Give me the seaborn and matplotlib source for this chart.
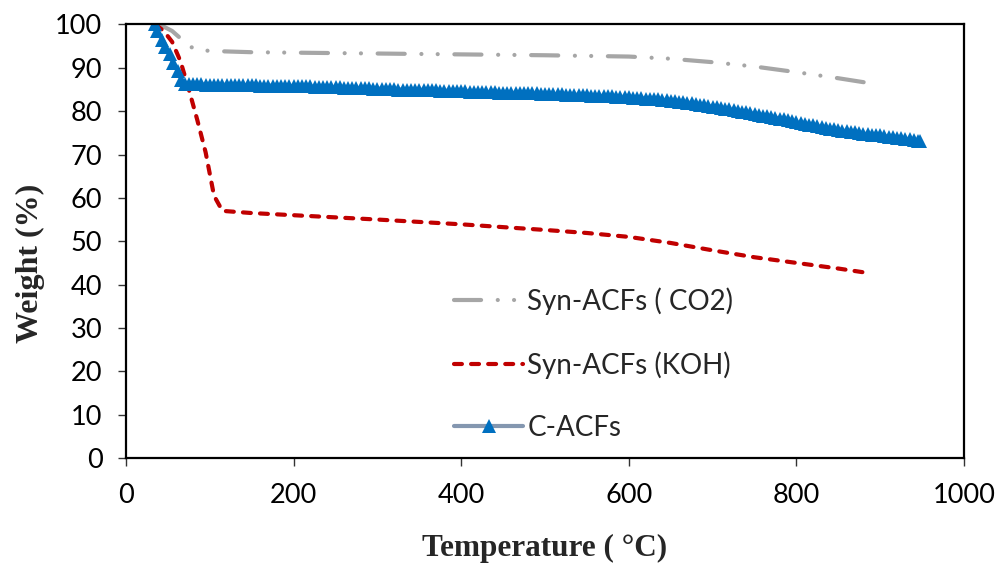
import numpy as np
import pandas as pd
import matplotlib
matplotlib.use("Agg")
import matplotlib.pyplot as plt
import seaborn as sns

# Thermogravimetric curves: temperature (°C) vs remaining weight (%)
co2_temp = [35, 45, 55, 65, 75, 85, 100, 150, 200, 300, 400, 500, 600, 650, 700, 750, 800, 850, 883]
co2_weight = [100, 99.5, 98.5, 96.8, 95.0, 94.2, 93.9, 93.6, 93.5, 93.3, 93.1, 92.9, 92.6, 92.1, 91.3,
              90.3, 89.0, 87.6, 86.6]

koh_temp = [35, 45, 55, 65, 75, 85, 95, 105, 115, 150, 200, 300, 400, 500, 550, 600, 650, 700, 750,
            800, 850, 888]
koh_weight = [100, 98.5, 96.0, 91.5, 85.0, 78.0, 70.5, 60.5, 57.0, 56.5, 56.0, 55.0, 53.9, 52.6, 51.9,
              51.0, 49.6, 47.9, 46.3, 45.0, 43.7, 42.6]

# C-ACFs: initial moisture loss, then readings every 5 °C from 75 to 945 °C, last point at 948 °C
cacf_temp_start = [35, 37, 43, 47, 52, 56, 62, 66, 70]
cacf_weight_start = [100, 98.4, 96.5, 94.9, 93.1, 91.0, 89.2, 87.3, 86.3]
cacf_temp_main = list(range(75, 950, 5)) + [948]
cacf_weight_main = [
    86.2, 86.2, 86.2, 86.2, 86.1, 86.1,
    86.1, 86.1, 86.1, 86.1, 86.0, 86.0, 86.0, 86.0, 86.0, 86.0,
    86.0, 85.9, 85.9, 85.9, 85.9, 85.9, 85.8, 85.8, 85.8, 85.8,
    85.8, 85.7, 85.7, 85.7, 85.6, 85.6, 85.6, 85.6, 85.5, 85.5,
    85.5, 85.4, 85.4, 85.4, 85.3, 85.3, 85.3, 85.3, 85.2, 85.2,
    85.2, 85.1, 85.1, 85.1, 85.0, 85.0, 85.0, 85.0, 84.9, 84.9,
    84.9, 84.8, 84.8, 84.8, 84.7, 84.7, 84.7, 84.7, 84.6, 84.6,
    84.6, 84.5, 84.5, 84.5, 84.4, 84.4, 84.4, 84.4, 84.3, 84.3,
    84.3, 84.2, 84.2, 84.2, 84.1, 84.1, 84.1, 84.1, 84.0, 84.0,
    84.0, 83.9, 83.9, 83.9, 83.8, 83.8, 83.8, 83.8, 83.7, 83.7,
    83.6, 83.6, 83.5, 83.5, 83.4, 83.4, 83.3, 83.3, 83.2, 83.2,
    83.1, 83.0, 83.0, 82.9, 82.8, 82.8, 82.7, 82.6, 82.5, 82.4,
    82.3, 82.2, 82.1, 82.0, 81.8, 81.7, 81.5, 81.4, 81.2, 81.0,
    80.9, 80.7, 80.5, 80.4, 80.2, 80.0, 79.9, 79.7, 79.5, 79.4,
    79.2, 79.0, 78.8, 78.7, 78.5, 78.3, 78.1, 77.9, 77.7, 77.4,
    77.2, 77.0, 76.9, 76.7, 76.5, 76.3, 76.2, 76.0, 75.8, 75.7,
    75.5, 75.4, 75.2, 75.1, 74.9, 74.8, 74.7, 74.6, 74.5, 74.4,
    74.3, 74.1, 74.0, 73.9, 73.7, 73.6, 73.5, 73.3, 73.2, 73.1,
]

labels = ["Syn-ACFs ( CO2)", "Syn-ACFs (KOH)", "C-ACFs"]
x_ticks = [0, 200, 400, 600, 800, 1000]
y_ticks = [0, 10, 20, 30, 40, 50, 60, 70, 80, 90, 100]

sns.set_theme(style="ticks")
plt.rcParams["font.family"] = ["Lato", "DejaVu Sans"]

co2 = pd.DataFrame({"T": co2_temp, "W": co2_weight})
koh = pd.DataFrame({"T": koh_temp, "W": koh_weight})
cacf = pd.DataFrame({"T": cacf_temp_start + cacf_temp_main,
                     "W": cacf_weight_start + cacf_weight_main})

fig = plt.figure(figsize=(10.05, 5.64), dpi=100)
ax = fig.add_axes([0.1254, 0.188, 0.8338, 0.7686])

sns.lineplot(data=co2, x="T", y="W", ax=ax, estimator=None, sort=False,
             color="#a6a6a6", linewidth=3,
             linestyle=(0, (6.5, 4.0, 0.01, 3.9, 0.01, 4.0)),
             dash_capstyle="round", solid_capstyle="round")
sns.lineplot(data=koh, x="T", y="W", ax=ax, estimator=None, sort=False,
             color="#c00000", linewidth=3,
             linestyle=(0, (1.9, 2.2)),
             dash_capstyle="round")
sns.lineplot(data=cacf, x="T", y="W", ax=ax, estimator=None, sort=False,
             color="#8497b0", linewidth=3,
             marker="^", markersize=10, markerfacecolor="#0070c0",
             markeredgecolor="#0070c0", markeredgewidth=0)

ax.set_xlim(0, 1000)
ax.set_ylim(0, 100)
ax.set_xticks(x_ticks)
ax.set_yticks(y_ticks)
ax.tick_params(axis="both", direction="out", length=6, width=1, color="#333333",
               labelsize=19.5, labelcolor="black")
ax.tick_params(axis="x", pad=12)
ax.tick_params(axis="y", pad=11)
for side in ["left", "right", "top", "bottom"]:
    ax.spines[side].set_visible(True)
    ax.spines[side].set_color("black")
    ax.spines[side].set_linewidth(1.6)

ax.set_xlabel("Temperature ( °C)", family=["Liberation Serif", "DejaVu Serif"],
              weight="bold", size=22.5, labelpad=19)
ax.set_ylabel("Weight (%)", family=["Liberation Serif", "DejaVu Serif"],
              weight="bold", size=23)
ax.yaxis.set_label_coords(-0.097, 0.449)

handles = ax.get_lines()[:3]
ax.legend(handles, labels, loc="center", bbox_to_anchor=(0.558, 0.217),
          frameon=False, fontsize=20, handlelength=2.5, handletextpad=0.15,
          labelspacing=1.3, borderpad=0.3)

fig.savefig("out.png", dpi=100, facecolor="white")
